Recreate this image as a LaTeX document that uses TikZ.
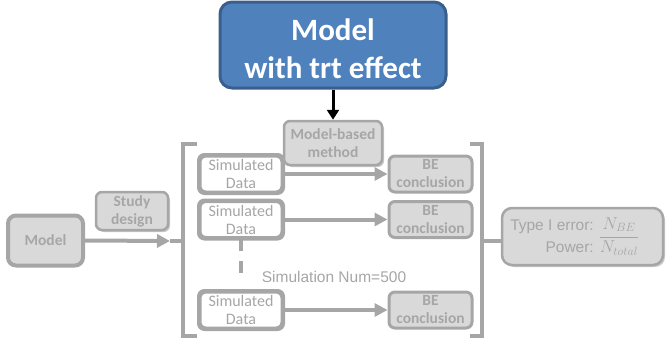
\documentclass[tikz,border=0pt]{standalone}
\usepackage{fontspec}
\setmainfont{Carlito}
\newfontfamily\arialf{Liberation Sans}
\usetikzlibrary{arrows.meta,shadows}
\definecolor{gb}{HTML}{A6A6A6}
\definecolor{gf}{HTML}{D9D9D9}
\definecolor{gt}{HTML}{A6A6A6}
\definecolor{blueF}{HTML}{4F81BD}
\definecolor{blueD}{HTML}{3A5F8C}
\begin{document}
\begin{tikzpicture}[x=1pt,y=-1pt,
  bluebox/.style={draw=blueD, fill=blueF, line width=3pt, rounded corners=12pt,
    minimum width=226pt, minimum height=86pt, text=white, align=center,
    font=\fontsize{31}{38}\selectfont\bfseries, inner sep=0pt},
  graybox/.style={draw=gb, fill=gf, rounded corners=6pt, align=center, text=gt,
    font=\fontsize{15.5}{18}\selectfont\bfseries, inner sep=0pt},
  simbox/.style={draw=gb, fill=white, line width=3pt, rounded corners=6pt, align=center, text=gt,
    minimum width=82pt, minimum height=36pt,
    font=\fontsize{16}{18}\selectfont, inner sep=0pt},
  simrim/.style={draw=gb, line width=3pt, rounded corners=6pt},
  bebox/.style={graybox, line width=3pt, minimum width=83pt, minimum height=36pt},
  shad/.style={drop shadow={shadow xshift=2pt, shadow yshift=-2pt, opacity=0.35, fill=black!60}},
  garrow/.style={draw=gb, line width=4pt, -{Triangle[length=13pt, width=13pt]}},
  brk/.style={draw=gb, line width=3.5pt},
  arialtext/.style={text=gt, font=\arialf\fontsize{15.5}{18}\selectfont, inner sep=0pt}
]
\useasboundingbox (0,0) rectangle (667,340);

% top blue model
\node[bluebox] (blue) at (333,45) {};
\node[text=white, align=center, font=\fontsize{31}{38}\selectfont\bfseries, inner sep=0pt] (bluetxt) at (333,49) {Model\\with trt effect};
\node[graybox, line width=2.5pt, minimum width=98pt, minimum height=44pt, shad] (mb) at (333,143) {Model-based\\method};
\draw[line width=3pt, -{Triangle[length=10pt, width=12pt]}, black] (blue.south) -- (mb.north);

% brackets
\coordinate (lbt) at (197,144);
\coordinate (lbb) at (197,336);
\coordinate (lnub) at (170,241);
\draw[brk] (lbt) -- (183,144) -- (183,336) -- (lbb);
\draw[brk] (183,241) -- (lnub);
\coordinate (rbt) at (470,144);
\coordinate (rbb) at (470,336);
\draw[brk] (rbt) -- (482,144) -- (482,336) -- (rbb);

% rows
\node[simbox, text depth=-4pt] (s1) at (241,174) {Simulated\\Data};
\node[simbox, text depth=-4pt] (s2) at (241,219.5) {Simulated\\Data};
\node[simbox, text depth=-4pt] (s3) at (241,310) {Simulated\\Data};
\draw[simrim] (s1.south west) rectangle (s1.north east);
\draw[simrim] (s2.south west) rectangle (s2.north east);
\draw[simrim] (s3.south west) rectangle (s3.north east);
\node[bebox] (b1) at (430.5,174) {BE\\conclusion};
\node[bebox] (b2) at (430.5,219.5) {BE\\conclusion};
\node[bebox] (b3) at (430.5,310) {BE\\conclusion};
\draw[garrow] (s1.east) -- (b1.west);
\draw[garrow] (s2.east) -- (b2.west);
\draw[garrow] (s3.east) -- (b3.west);

\coordinate (dend) at (241,282);
\draw[draw=gb, line width=4.5pt, dash pattern=on 12pt off 10pt] (s2.south) -- (dend);
\node[arialtext] (num) at (334,277) {Simulation Num=500};

% left model
\node[graybox, line width=4pt, rounded corners=8pt, minimum width=75pt, minimum height=50pt] (m) at (45.5,240.5) {Model};
\node[graybox, line width=2.5pt, minimum width=72pt, minimum height=38pt, shad] (sd) at (132,211) {Study\\design};
\draw[garrow] (m.east) -- (lnub);

% result
\node[graybox, line width=2.5pt, rounded corners=10pt, minimum width=161pt, minimum height=57pt, shad] (res) at (582.5,236.5) {};
\draw[brk] (482,241) -- (res.west |- 0,241);
\node[arialtext, anchor=east] (t1) at (594,227) {Type I error:};
\node[arialtext, anchor=east] (t2) at (594,247) {Power:};
\node[text=gt, inner sep=0pt, font=\fontsize{18}{21}\selectfont] (fr) at (619,236.5) {$\displaystyle\frac{N_{BE}}{N_{total}}$};
\end{tikzpicture}
\end{document}
